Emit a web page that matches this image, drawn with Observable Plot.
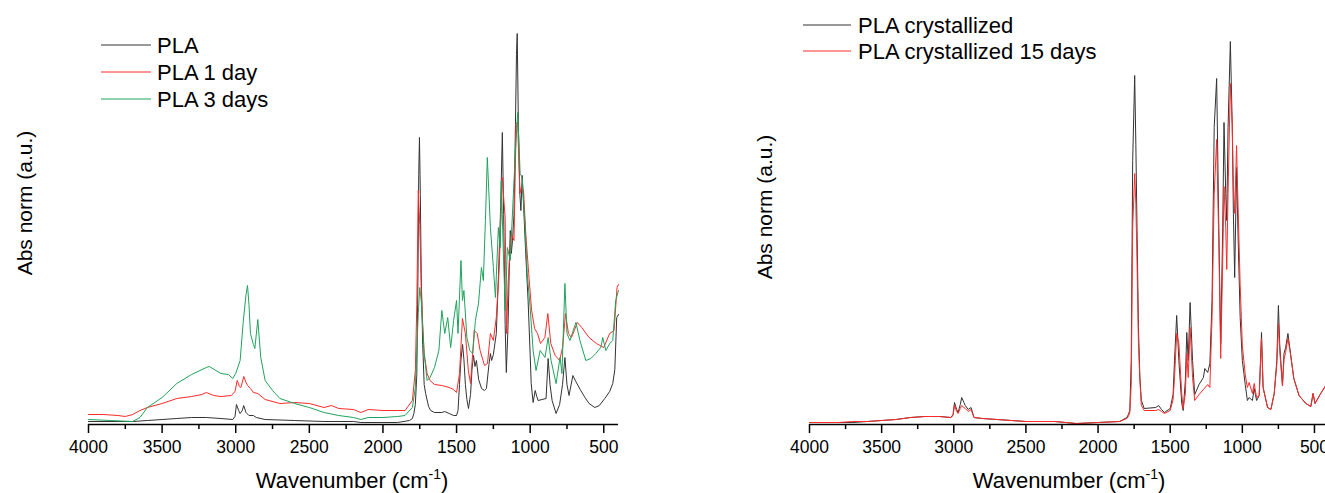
<!DOCTYPE html>
<html>
<head>
<meta charset="utf-8">
<script src="https://cdn.jsdelivr.net/npm/d3@7"></script>
<script src="https://cdn.jsdelivr.net/npm/@observablehq/plot@0.6"></script>
<style>
  html, body { margin: 0; padding: 0; background: #fff; overflow: hidden; }
  #wrap { position: relative; width: 1325px; height: 493px; overflow: hidden; }
  #wrap > svg { position: absolute; top: 0; }
</style>
</head>
<body>
<div id="wrap"></div>
<script>
// ---------- Data ----------
// Axis ticks
const majorTicks = [4000, 3500, 3000, 2500, 2000, 1500, 1000, 500];
const minorTicks = [3750, 3250, 2750, 2250, 1750, 1250, 750];

// Left panel: PLA
const plaWn  = [4000,3800,3700,3600,3500,3400,3300,3200,3100,3020,3005,2995,2980,2970,2955,2946,2930,2910,2880,2860,2800,2600,2400,2200,2150,2000,1900,1820,1800,1790,1780,1770,1762,1757,1752,1746,1740,1730,1720,1710,1690,1676,1650,1600,1580,1550,1520,1500,1490,1480,1470,1459,1450,1440,1430,1419,1405,1395,1385,1375,1365,1350,1330,1311,1297,1280,1270,1262,1250,1230,1215,1200,1189,1180,1170,1162,1150,1140,1135,1128,1120,1110,1100,1093,1088,1080,1070,1063,1054,1045,1030,1014,1000,993,980,966,955,946,920,892,878,865,851,824,800,780,764,750,736,710,690,660,628,600,561,530,493,460,439,425,412,400];
const plaAbs = [3,3,3,4,5,6,7,7,6,5,8,20,14,11,14,19,12,9,9,7,5,4,3,3,2,2,2,4,6,11,20,50,150,250,287,230,150,80,40,31,18,14,12,12,13,11,9,9,14,40,65,80,65,40,25,16,30,55,69,58,64,45,36,34,36,60,71,64,70,91,150,220,292,210,100,52,100,170,194,171,184,210,300,370,391,300,230,214,249,220,170,124,70,41,22,34,28,24,25,26,66,40,24,11,20,40,67,40,29,49,43,35,27,21,17,19,26,33,41,55,107,110];

// Left panel: PLA 1 day
const pla1Wn  = [4000,3900,3800,3750,3700,3650,3600,3500,3400,3300,3230,3200,3150,3100,3030,3005,2990,2975,2965,2945,2930,2920,2900,2880,2850,2800,2700,2600,2500,2400,2350,2300,2200,2150,2100,2000,1900,1850,1800,1780,1770,1760,1750,1740,1730,1720,1700,1680,1650,1600,1550,1520,1500,1480,1460,1440,1420,1405,1380,1360,1340,1310,1290,1270,1250,1230,1210,1190,1170,1160,1150,1130,1110,1095,1085,1070,1060,1045,1030,1010,990,970,950,930,900,880,860,830,800,780,760,740,720,700,680,650,600,550,500,460,430,410,400];
const pla1Abs = [10,10,9,8,10,14,17,21,26,28,30,32,29,28,29,33,44,38,37,48,42,39,36,32,31,25,21,22,21,17,19,16,15,12,15,14,14,14,24,54,120,234,200,137,100,71,51,44,40,39,37,35,32,51,106,91,54,41,94,91,74,59,61,91,84,107,157,247,207,91,141,191,184,301,302,231,237,234,191,151,114,96,91,81,87,111,81,69,64,77,111,91,87,94,102,97,87,81,77,91,94,137,140];

// Left panel: PLA 3 days
const pla3Wn  = [4000,3850,3700,3650,3600,3500,3400,3300,3200,3180,3100,3050,3020,3000,2970,2950,2930,2920,2910,2900,2880,2870,2850,2830,2800,2750,2700,2600,2500,2400,2300,2200,2150,2100,2000,1900,1850,1800,1780,1760,1750,1740,1720,1700,1680,1650,1620,1600,1580,1560,1540,1520,1500,1490,1470,1460,1450,1430,1410,1390,1372,1351,1331,1318,1304,1291,1270,1250,1236,1216,1203,1196,1182,1169,1155,1135,1128,1101,1085,1068,1054,1034,1020,1000,980,960,932,899,878,858,824,797,784,764,750,730,689,662,622,588,554,520,507,486,459,439,419,400];
const pla3Abs = [5,4,3,7,17,27,41,50,57,58,51,50,46,51,64,101,130,139,120,91,80,76,105,67,44,34,26,21,17,12,9,7,5,7,7,8,9,17,37,111,137,124,71,44,47,57,74,114,91,107,77,104,124,91,164,124,134,87,74,71,104,121,157,144,204,267,197,157,127,197,177,244,171,114,177,164,187,271,312,251,247,197,151,117,74,54,74,67,87,64,41,67,51,141,91,84,102,84,64,66,71,77,87,74,81,84,124,134];

// Right panel: PLA crystallized
const crysWn  = [4000,3800,3700,3600,3500,3400,3300,3200,3100,3020,3005,2995,2980,2970,2955,2945,2930,2920,2900,2880,2860,2800,2700,2500,2300,2150,2000,1850,1800,1790,1780,1770,1760,1746,1738,1730,1720,1710,1700,1680,1600,1580,1560,1540,1500,1480,1470,1455,1440,1420,1410,1395,1385,1375,1362,1345,1330,1300,1270,1260,1240,1225,1210,1195,1178,1163,1150,1136,1127,1115,1108,1099,1083,1070,1062,1053,1040,1030,1015,1000,980,965,953,930,918,901,883,867,856,825,802,779,761,750,741,732,722,711,700,684,666,643,607,560,525,510,496,457,422,400];
const crysAbs = [2,2,2,3,4,5,7,8,8,7,10,22,15,12,20,27,22,19,15,17,7,6,5,3,3,1,2,3,7,10,14,64,264,349,280,197,97,47,24,16,17,19,15,12,16,30,64,109,64,21,14,44,92,64,122,64,30,40,47,56,52,61,124,297,346,197,81,197,302,231,204,297,383,300,211,147,257,191,107,64,40,24,27,24,36,24,29,92,37,17,15,31,64,119,81,61,39,71,77,91,71,46,29,21,18,31,21,31,39,45];

// Right panel: PLA crystallized 15 days
const crys15Wn  = [4000,3800,3700,3600,3500,3400,3300,3200,3100,3020,3005,2995,2980,2970,2955,2945,2930,2920,2900,2880,2860,2800,2700,2500,2300,2150,2000,1850,1800,1790,1780,1770,1760,1746,1738,1730,1720,1710,1700,1680,1600,1580,1560,1540,1500,1480,1470,1455,1440,1420,1410,1395,1385,1375,1362,1345,1330,1300,1270,1240,1225,1210,1195,1178,1163,1150,1136,1127,1115,1108,1099,1083,1070,1062,1053,1040,1030,1015,1000,980,965,953,930,918,901,883,867,856,825,802,779,761,750,741,732,722,711,700,684,666,643,607,560,525,510,496,457,422,400];
const crys15Abs = [2,2,3,3,4,5,7,8,8,7,9,19,13,11,16,19,17,16,13,15,7,6,5,3,3,1,2,3,6,8,12,40,197,251,220,164,81,44,19,14,14,15,13,11,14,25,47,91,81,31,16,31,71,47,97,47,24,30,35,40,37,107,230,285,181,66,164,238,197,155,231,341,300,240,211,279,220,140,79,50,37,42,31,41,27,29,86,37,17,15,31,60,101,74,57,39,65,72,86,70,46,29,21,18,31,21,31,39,45];

// Series names and colours
const leftNames  = ["PLA", "PLA 1 day", "PLA 3 days"];
const rightNames = ["PLA crystallized", "PLA crystallized 15 days"];
const colBlack = "#333333", colRed = "#ff2a2a", colGreen = "#1fa35c";

// ---------- Build ----------
const font = "'Liberation Sans', Arial, Helvetica, sans-serif";
const rows = (wn, ab) => wn.map((w, i) => ({w, a: ab[i]}));

function panel(series, {width, marginLeft, marginRight}) {
  return Plot.plot({
    width, height: 493,
    marginTop: 24, marginBottom: 69, marginLeft, marginRight,
    x: {domain: [4000, 400], axis: null},
    y: {domain: [0, 400], axis: null},
    style: {fontFamily: font, background: "transparent", color: "#000", overflow: "visible"},
    marks: [
      ...series.map(s => Plot.line(s.data, {x: "w", y: "a", stroke: s.color, strokeWidth: 1, curve: "linear"})),
      Plot.ruleY([0], {stroke: "#000", strokeWidth: 1.5}),
      Plot.axisX({ticks: majorTicks, tickFormat: "d", tickSize: 9, tickPadding: 7, fontSize: 17.5, label: null, strokeWidth: 1.5, stroke: "#000", fill: "#000"}),
      Plot.axisX({ticks: minorTicks, text: null, tickSize: 5, label: null, strokeWidth: 1.5, stroke: "#000"})
    ]
  });
}

const wrap = document.getElementById("wrap");

const left = panel([
  {data: rows(plaWn, plaAbs), color: colBlack},
  {data: rows(pla1Wn, pla1Abs), color: colRed},
  {data: rows(pla3Wn, pla3Abs), color: colGreen}
], {width: 660, marginLeft: 88, marginRight: 42});
left.style.left = "0px";
wrap.appendChild(left);

const right = panel([
  {data: rows(crysWn, crysAbs), color: colBlack},
  {data: rows(crys15Wn, crys15Abs), color: colRed}
], {width: 700, marginLeft: 109, marginRight: 71.6});
right.style.left = "700px";
wrap.appendChild(right);

// ---------- Titles and legends (overlay) ----------
const ov = d3.select(wrap).append("svg")
  .attr("width", 1325).attr("height", 493)
  .style("left", "0px").style("pointer-events", "none")
  .attr("font-family", font).attr("fill", "#000");

function yLabel(x, y) {
  ov.append("text").attr("transform", `translate(${x},${y}) rotate(-90)`)
    .attr("text-anchor", "middle").attr("font-size", 21).text("Abs norm (a.u.)");
}
function xLabel(cx) {
  const t = ov.append("text").attr("x", cx).attr("y", 488).attr("text-anchor", "middle").attr("font-size", 22);
  t.append("tspan").text("Wavenumber (cm");
  t.append("tspan").attr("font-size", 14).attr("dy", -9).text("-1");
  t.append("tspan").attr("dy", 9).text(")");
}
yLabel(32, 203);
yLabel(772, 207);
xLabel(352);
xLabel(1069);

function legend(x0, x1, tx, ys, names, colors) {
  names.forEach((n, i) => {
    ov.append("line").attr("x1", x0).attr("x2", x1).attr("y1", ys[i]).attr("y2", ys[i])
      .attr("stroke", colors[i]).attr("stroke-width", 1);
    ov.append("text").attr("x", tx).attr("y", ys[i] + 8).attr("font-size", 22).text(n);
  });
}
legend(101, 151, 157, [45, 72, 99], leftNames, [colBlack, colRed, colGreen]);
legend(803, 851, 858, [25, 51], rightNames, [colBlack, colRed]);
</script>
</body>
</html>
